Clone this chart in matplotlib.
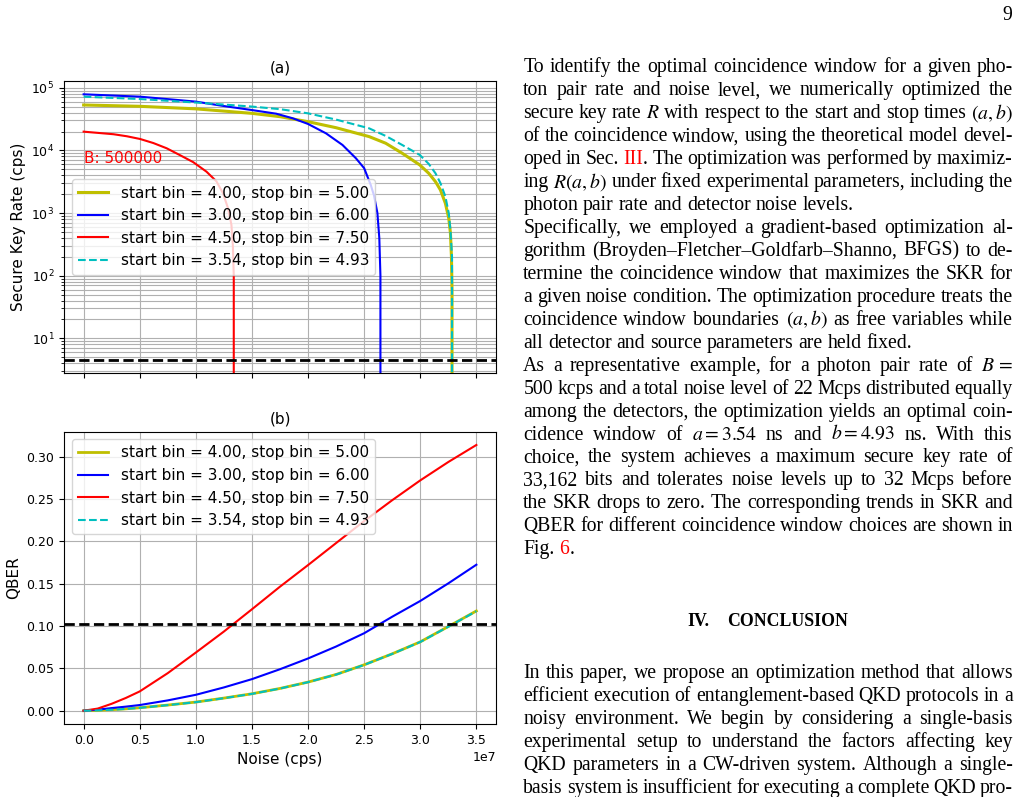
import re
import numpy as np
import matplotlib
matplotlib.use("Agg")
import matplotlib.pyplot as plt

W, H = 1021, 797

# ---------------- data ----------------
series_labels = ["start bin = 4.00, stop bin = 5.00",
                 "start bin = 3.00, stop bin = 6.00",
                 "start bin = 4.50, stop bin = 7.50",
                 "start bin = 3.54, stop bin = 4.93"]
series_colors = ["y", "b", "r", "c"]
series_styles = ["-", "-", "-", "--"]
series_widths_a = [2.2, 1.5, 1.5, 1.5]
series_widths_b = [2.0, 1.5, 1.5, 1.5]

# (a) secure key rate, noise in units of 1e7 cps
skr_noise_y = [0, 0.5, 1.0, 1.5, 1.75, 2.0, 2.25, 2.544, 2.692, 2.839, 2.996, 3.076, 3.136, 3.18,
               3.224, 3.254, 3.269, 3.278, 3.283, 3.285]
skr_y = [53000, 50500, 46000, 39000, 34500, 28700, 23000, 16600, 13000, 9000, 5850, 4300, 3160, 2330,
         1430, 826, 477, 202, 60, 0]

skr_noise_b = [0, 0.5, 1.0, 1.25, 1.5, 1.716, 1.864, 2.0, 2.16, 2.307, 2.426, 2.5, 2.559, 2.588,
               2.618, 2.635, 2.645, 2.648]
skr_b = [78500, 72000, 60000, 51000, 44000, 38500, 32500, 26400, 18700, 12200, 7500, 5200, 2800, 1900,
         1000, 400, 100, 0]

skr_noise_r = [0, 0.266, 0.385, 0.503, 0.621, 0.74, 0.858, 0.976, 1.095, 1.184, 1.242, 1.287, 1.317,
               1.33, 1.338, 1.341]
skr_r = [19900, 18100, 16800, 15200, 13100, 10800, 8400, 6500, 4570, 3200, 2070, 1190, 650,
         300, 100, 0]

skr_noise_c = [0, 0.5, 1.0, 1.5, 1.75, 2.0, 2.25, 2.544, 2.692, 2.839, 2.996, 3.076, 3.136, 3.18,
               3.224, 3.254, 3.269, 3.283, 3.286]
skr_c = [71900, 66000, 58000, 50000, 45500, 39000, 31000, 22500, 17000, 12200, 8450, 6070, 4300, 3000,
         1830, 994, 537, 202, 0]

skr_threshold = 4.5

# (b) QBER, noise in units of 1e7 cps
qber_noise = [0, 0.125, 0.25, 0.375, 0.5, 0.75, 1.0, 1.25, 1.5, 1.75, 2.0, 2.25, 2.5, 2.75, 3.0, 3.25, 3.5]
qber_y = [0, 0.0004, 0.0012, 0.0022, 0.0035, 0.0067, 0.0102, 0.0149, 0.0200, 0.0263, 0.0338, 0.0428,
          0.0542, 0.0672, 0.0813, 0.0994, 0.1178]
qber_b = [0, 0.0012, 0.0031, 0.0048, 0.0067, 0.0122, 0.0188, 0.0275, 0.0373, 0.0490, 0.0617, 0.0758,
          0.0915, 0.1110, 0.1296, 0.1504, 0.1724]
qber_r = [0, 0.0025, 0.0082, 0.0150, 0.0228, 0.0444, 0.0687, 0.0935, 0.1198, 0.1465, 0.1720, 0.1980,
          0.2240, 0.2486, 0.2720, 0.2937, 0.3138]
qber_c = [0, 0.0004, 0.0012, 0.0021, 0.0034, 0.0066, 0.0101, 0.0148, 0.0199, 0.0262, 0.0337, 0.0427,
          0.0541, 0.0671, 0.0812, 0.0992, 0.1175]
qber_threshold = 0.102

B_label = "B: 500000"

# ---------------- figure ----------------
fig = plt.figure(figsize=(W / 100, H / 100), dpi=100)
fig.patch.set_facecolor("white")


def rect(l, t, r, b):
    return [l / W, 1 - b / H, (r - l) / W, (b - t) / H]


ax1 = fig.add_axes(rect(64, 81, 496, 373))
ax2 = fig.add_axes(rect(64, 431.7, 496, 724), sharex=ax1)

scale = 1e7
skr_x = [skr_noise_y, skr_noise_b, skr_noise_r, skr_noise_c]
skr_v = [skr_y, skr_b, skr_r, skr_c]
for xs, ys, lab, col, ls, lw in zip(skr_x, skr_v, series_labels, series_colors, series_styles, series_widths_a):
    ax1.plot(np.array(xs) * scale, ys, color=col, ls=ls, lw=lw, label=lab)
ax1.axhline(skr_threshold, color="k", ls="--", lw=2)
ax1.set_yscale("log")
ax1.set_ylim(2.8, 1.28e5)
ax1.grid(True, which="both")
ax1.set_ylabel("Secure Key Rate (cps)", fontsize=11)
ax1.set_title("(a)", fontsize=11)
ax1.text(0.047, 0.72, B_label, transform=ax1.transAxes, color="red", fontsize=11)
ax1.legend(loc="center left", fontsize=11)
ax1.tick_params(labelsize=9, labelbottom=False)
ax1.xaxis.get_offset_text().set_visible(False)

qb_v = [qber_y, qber_b, qber_r, qber_c]
for ys, lab, col, ls, lw in zip(qb_v, series_labels, series_colors, series_styles, series_widths_b):
    ax2.plot(np.array(qber_noise) * scale, ys, color=col, ls=ls, lw=lw, label=lab)
ax2.axhline(qber_threshold, color="k", ls="--", lw=2)
ax2.grid(True)
ax2.set_ylabel("QBER", fontsize=11)
ax2.set_xlabel("Noise (cps)", fontsize=11)
ax2.set_title("(b)", fontsize=11)
ax2.legend(loc="upper left", fontsize=11)
ax2.tick_params(labelsize=9)
ax2.xaxis.get_offset_text().set_fontsize(9)

# ---------------- text column ----------------
para1 = [
    "To identify the optimal coincidence window for a given pho-",
    "ton pair rate and noise level, we numerically optimized the",
    "secure key rate $R$ with respect to the start and stop times $(a,b)$",
    "of the coincidence window, using the theoretical model devel-",
    "oped in Sec. [III]. The optimization was performed by maximiz-",
    "ing $R(a,b)$ under fixed experimental parameters, including the",
    "photon pair rate and detector noise levels.",
]
para2 = [
    "Specifically, we employed a gradient-based optimization al-",
    "gorithm (Broyden\u2013Fletcher\u2013Goldfarb\u2013Shanno, BFGS) to de-",
    "termine the coincidence window that maximizes the SKR for",
    "a given noise condition. The optimization procedure treats the",
    "coincidence window boundaries $(a,b)$ as free variables while",
    "all detector and source parameters are held fixed.",
]
para3 = [
    "As a representative example, for a photon pair rate of $B\\,=$",
    "500 kcps and a total noise level of 22 Mcps distributed equally",
    "among the detectors, the optimization yields an optimal coin-",
    "cidence window of $a=3.54$ ns and $b=4.93$ ns. With this",
    "choice, the system achieves a maximum secure key rate of",
    "33,162 bits and tolerates noise levels up to 32 Mcps before",
    "the SKR drops to zero. The corresponding trends in SKR and",
    "QBER for different coincidence window choices are shown in",
    "Fig. [6].",
]
heading_num = "IV."
heading_txt = "CONCLUSION"
para4 = [
    "In this paper, we propose an optimization method that allows",
    "efficient execution of entanglement-based QKD protocols in a",
    "noisy environment. We begin by considering a single-basis",
    "experimental setup to understand the factors affecting key",
    "QKD parameters in a CW-driven system. Although a single-",
    "basis system is insufficient for executing a complete QKD pro-",
]
page_number = "9"

serif = "Liberation Serif"
renderer = fig.canvas.get_renderer()


def make(txt, size, color="k", weight="normal"):
    return fig.text(0, 0, txt, fontsize=size, family=serif, color=color,
                    weight=weight, va="baseline", ha="left", math_fontfamily="stix")


def wpx(t):
    return t.get_window_extent(renderer).width


probe = make("photon pair rate and detector noise levels.", 10)
fs = 10 * 330.7 / wpx(probe)
probe.remove()

TOK = re.compile(r"(?:\$[^$]*\$|[^\s$])+")
SEG = re.compile(r"(\$[^$]*\$|\[[^\]]*\])")


def layout(line, base, x0, x1, justify, size):
    words = TOK.findall(line)
    word_items = []
    for w in words:
        items = []
        for part in SEG.split(w):
            if not part:
                continue
            if part.startswith("["):
                t = make(part[1:-1], size, color="#ff0000")
            else:
                t = make(part, size)
            items.append((t, wpx(t)))
        word_items.append(items)
    wsum = [sum(wd for _, wd in items) for items in word_items]
    space = 0.25 * size * 100 / 72
    if justify and len(words) > 1:
        gap = (x1 - x0 - sum(wsum)) / (len(words) - 1)
    else:
        gap = space
    x = x0
    for items, ws in zip(word_items, wsum):
        xx = x
        for t, wd in items:
            t.set_position((xx / W, 1 - base / H))
            xx += wd
        x += ws + gap


X0, X1 = 523.3, 1012.7
LS = 22.95
base0 = 72.3
all_lines = []
for p in (para1, para2, para3):
    for i, ln in enumerate(p):
        all_lines.append((ln, i < len(p) - 1))
for k, (ln, just) in enumerate(all_lines):
    layout(ln, base0 + k * LS, X0, X1, just, fs)

for k, ln in enumerate(para4):
    layout(ln, 678.3 + k * LS, X0, X1, True, fs)

# heading
hp = make(heading_txt, 10, weight="bold")
hs = 10 * 120.0 / wpx(hp)
hp.remove()
h1 = make(heading_num, hs, weight="bold")
h1.set_position((687 / W, 1 - 626 / H))
h2 = make(heading_txt, hs, weight="bold")
h2.set_ha("right")
h2.set_position((848 / W, 1 - 626 / H))

pn = make(page_number, fs)
pn.set_ha("right")
pn.set_position((1012.5 / W, 1 - 20 / H))

fig.savefig("out.png", dpi=100, facecolor="white")
